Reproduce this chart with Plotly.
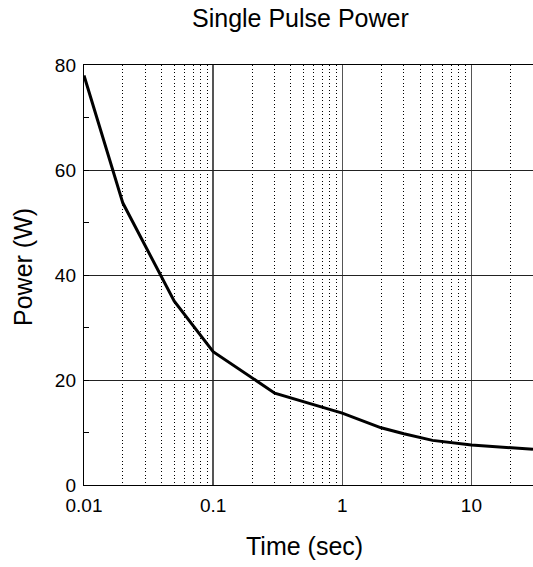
import plotly.graph_objects as go
import math

# Data
time_s = [0.01, 0.02, 0.05, 0.1, 0.3, 1, 2, 3, 5, 10, 30]
power_w = [78, 53.7, 35, 25.4, 17.5, 13.7, 10.9, 9.75, 8.5, 7.6, 6.8]

x_tickvals = [0.01, 0.1, 1, 10]
x_ticktext = ["0.01", "0.1", "1", "10"]
y_tickvals = [0, 20, 40, 60, 80]

title_text = "Single Pulse Power"
x_title = "Time (sec)"
y_title = "Power (W)"

minor_x = [d * 10 ** e for e in (-2, -1, 0, 1) for d in range(2, 10)]

FONT = "Liberation Sans, Arial, sans-serif"

fig = go.Figure()
fig.add_trace(go.Scatter(
    x=time_s, y=power_w, mode="lines",
    line=dict(color="black", width=3),
    showlegend=False, hoverinfo="skip",
))

fig.update_layout(
    width=533, height=567, autosize=False,
    margin=dict(l=84, r=0, t=65, b=82, pad=0),
    paper_bgcolor="white", plot_bgcolor="white",
    font=dict(family=FONT, color="black"),
    xaxis=dict(
        type="log", range=[-2, math.log10(30)],
        tickmode="array", tickvals=x_tickvals, ticktext=x_ticktext,
        tickfont=dict(size=19, family=FONT, color="black"),
        ticklabelstandoff=3,
        showgrid=True, gridcolor="#555", gridwidth=1.3,
        minor=dict(tickmode="array", tickvals=minor_x, showgrid=True,
                   griddash="1px,2.5px", gridcolor="#000", gridwidth=1, ticks=""),
        showline=True, linecolor="black", linewidth=1.2, mirror=True,
        ticks="", zeroline=False,
    ),
    yaxis=dict(
        range=[0, 80], tickmode="array", tickvals=y_tickvals,
        tickfont=dict(size=19, family=FONT, color="black"),
        ticklabelstandoff=3,
        showgrid=True, gridcolor="#222", gridwidth=1,
        ticks="inside", ticklen=5, tickcolor="black",
        minor=dict(dtick=10, ticks="inside", ticklen=5, tickcolor="black", showgrid=False),
        showline=True, linecolor="black", linewidth=1.2, mirror=False,
        zeroline=False,
    ),
    annotations=[
        dict(text=title_text, xref="paper", yref="paper", x=0.483, y=1.112,
             xanchor="center", yanchor="middle", showarrow=False,
             font=dict(size=25, family=FONT, color="black")),
        dict(text=x_title, xref="paper", yref="paper", x=0.492, y=-0.145,
             xanchor="center", yanchor="middle", showarrow=False,
             font=dict(size=25, family=FONT, color="black")),
        dict(text=y_title, xref="paper", yref="paper", x=-0.136, y=0.519,
             xanchor="center", yanchor="middle", showarrow=False, textangle=-90,
             font=dict(size=25, family=FONT, color="black")),
    ],
)

fig.write_html(
    "out.html",
    config={"displayModeBar": False, "staticPlot": True},
    post_script="document.body.style.margin='0';document.body.style.overflow='hidden';",
)
